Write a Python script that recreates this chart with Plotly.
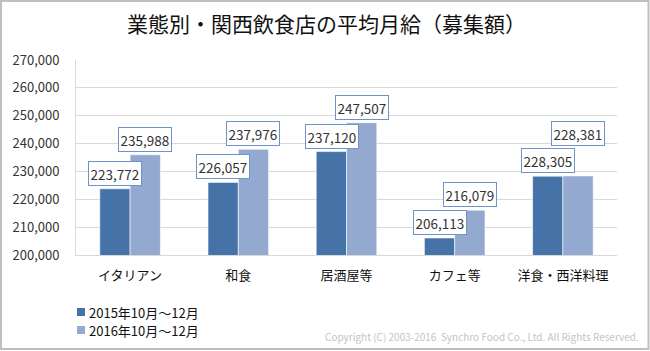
import plotly.graph_objects as go

categories = ["イタリアン", "和食", "居酒屋等", "カフェ等", "洋食・西洋料理"]
series_names = ["2015年10月～12月", "2016年10月～12月"]
values_2015 = [223772, 226057, 237120, 206113, 228305]
values_2016 = [235988, 237976, 247507, 216079, 228381]
y_ticks = [200000, 210000, 220000, 230000, 240000, 250000, 260000, 270000]
title_text = "業態別・関西飲食店の平均月給（募集額）"
copyright_text = "Copyright (C) 2003-2016  Synchro Food Co., Ltd. All Rights Reserved."

W, H = 650, 351
L, R, T, B = 76, 33, 60, 96
PW, PH = W - L - R, H - T - B

def px_x(p):
    return (p - L) / PW

def px_y(p):
    return 1 - (p - T) / PH

colors = ["#4572a7", "#93a9cf"]
FONT = "Noto Sans CJK JP"

fig = go.Figure()
for name, vals, col in zip(series_names, [values_2015, values_2016], colors):
    fig.add_trace(go.Bar(
        x=categories, y=vals, name=name,
        marker=dict(color=col, line=dict(color="#ffffff", width=0.6)),
        showlegend=False, hoverinfo="x+y",
    ))

annotations = []
# label offsets (extra lift for overlapping label)
extra = {(1, 4): 27}
for si, vals in enumerate([values_2015, values_2016]):
    for ci, v in enumerate(vals):
        annotations.append(dict(
            x=categories[ci], y=v, xref="x", yref="y",
            text=f"{v:,}", showarrow=False,
            xshift=-15 if si == 0 else 15,
            yanchor="bottom", yshift=3 + extra.get((si, ci), 0),
            font=dict(family=FONT, size=13.5, color="#333333"),
            bgcolor="#ffffff", bordercolor="#6f93c9", borderwidth=1, borderpad=1.5,
        ))

# title
annotations.append(dict(
    x=px_x(326), y=px_y(23), xref="paper", yref="paper", text=title_text,
    showarrow=False, xanchor="center", yanchor="middle",
    font=dict(family=FONT, size=21, color="#111111"),
))
# legend (manual)
shapes = []
for i, (name, col) in enumerate(zip(series_names, colors)):
    cy = 312 + i * 18
    shapes.append(dict(type="rect", xref="paper", yref="paper",
                       x0=px_x(77), x1=px_x(85), y0=px_y(cy - 4), y1=px_y(cy + 4),
                       fillcolor=col, line=dict(width=0)))
    annotations.append(dict(
        x=px_x(87), y=px_y(cy), xref="paper", yref="paper", text=name,
        showarrow=False, xanchor="left", yanchor="middle",
        font=dict(family=FONT, size=13, color="#111111"),
    ))
# copyright
annotations.append(dict(
    x=px_x(641), y=px_y(336), xref="paper", yref="paper", text=copyright_text,
    showarrow=False, xanchor="right", yanchor="middle",
    font=dict(family=FONT, size=10, color="#c4c4c4"),
))
# outer frame
shapes.append(dict(type="rect", xref="paper", yref="paper",
                   x0=px_x(1), x1=px_x(648.5), y0=px_y(349), y1=px_y(1),
                   line=dict(color="#bfbfbf", width=2), fillcolor="rgba(0,0,0,0)", layer="below"))

fig.update_layout(
    width=W, height=H,
    margin=dict(l=L, r=R, t=T, b=B, pad=0),
    paper_bgcolor="#ffffff", plot_bgcolor="#ffffff",
    barmode="group", bargap=0.44, bargroupgap=0,
    annotations=annotations, shapes=shapes,
    font=dict(family=FONT),
)
fig.update_xaxes(
    showline=True, linecolor="#d9d9d9", linewidth=1, showgrid=False,
    tickfont=dict(family=FONT, size=13, color="#111111"),
    ticks="", ticklabelstandoff=8,
)
fig.update_yaxes(
    range=[200000, 270000], tickvals=y_ticks,
    ticktext=[f"{t:,}" for t in y_ticks],
    showline=True, linecolor="#d9d9d9", linewidth=1,
    showgrid=True, gridcolor="#d9d9d9", gridwidth=1,
    zeroline=False,
    tickfont=dict(family=FONT, size=13, color="#333333"),
    ticks="", ticklabelstandoff=13,
)

fig.write_html("out.html")
